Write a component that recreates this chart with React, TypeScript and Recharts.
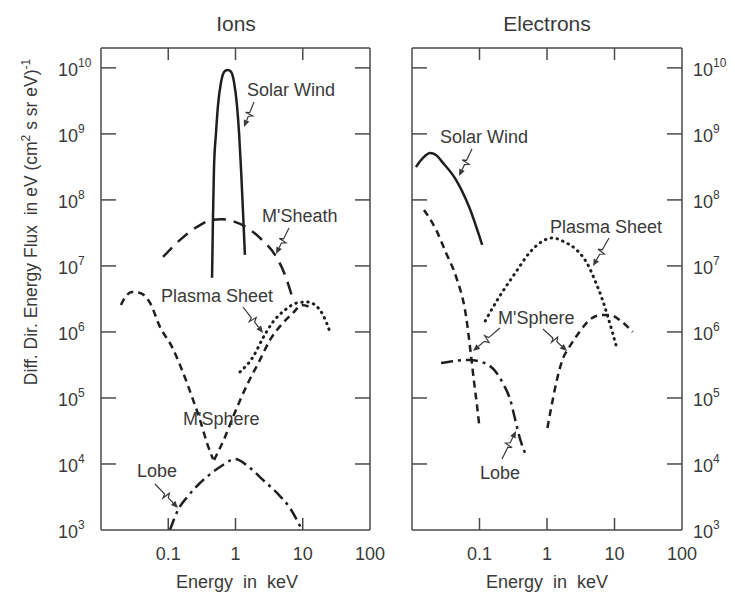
import { LineChart, Line, XAxis, YAxis } from 'recharts';

// [energy keV, diff. dir. energy flux]
const ionSolarWind = [[0.448, 6.6e6], [0.462, 5.0e7], [0.478, 2.85e8], [0.513, 1.03e9], [0.55, 2.75e9], [0.61, 6.1e9], [0.7, 9.0e9], [0.77, 9.3e9], [0.86, 8.7e9], [0.95, 6.1e9], [1.05, 2.75e9], [1.13, 1.03e9], [1.21, 2.85e8], [1.29, 7.0e7], [1.38, 1.47e7]];
const ionSheath = [[0.0836, 1.37e7], [0.15, 2.48e7], [0.268, 3.9e7], [0.46, 5.0e7], [0.62, 5.1e7], [0.83, 4.9e7], [1.48, 3.8e7], [2.48, 2.48e7], [3.87, 1.47e7], [5.45, 7.3e6], [6.9, 3.5e6]];
const ionSphereLow = [[0.0198, 2.56e6], [0.0236, 3.5e6], [0.0289, 4.04e6], [0.038, 3.9e6], [0.0536, 2.75e6], [0.0754, 1.19e6], [0.1137, 5.93e5], [0.16, 2.66e5], [0.2255, 1.04e5], [0.2965, 4.64e4], [0.377, 2.08e4], [0.462, 1.19e4]];
const ionSphereHigh = [[0.48, 1.15e4], [0.698, 2.56e4], [0.918, 5.15e4], [1.535, 1.69e5], [2.31, 3.77e5], [3.26, 7.57e5], [5.08, 1.37e6], [7.16, 1.94e6], [9.75, 2.56e6], [13.7, 2.31e6]];
const ionPlasmaSheet = [[1.167, 2.48e5], [1.82, 4.18e5], [2.56, 8.1e5], [3.61, 1.42e6], [5.45, 2.15e6], [8.2, 2.75e6], [11.6, 2.85e6], [15.2, 2.56e6], [20.0, 1.81e6], [25.4, 1.0e6]];
const ionLobe = [[0.106, 1e3], [0.1397, 2.01e3], [0.197, 3.27e3], [0.2965, 5.15e3], [0.462, 7.57e3], [0.652, 9.66e3], [0.984, 1.19e4], [1.644, 8.7e3], [2.56, 5.73e3], [4.14, 3.64e3], [6.46, 2.15e3], [9.75, 1e3]];

const eSolarWind = [[0.01145, 3.16e8], [0.01456, 4.33e8], [0.0185, 5.15e8], [0.0227, 4.8e8], [0.0279, 3.77e8], [0.0451, 2.0e8], [0.0703, 7.8e7], [0.1096, 2.08e7]];
const eSphereLow = [[0.01507, 7.05e7], [0.0228, 3.51e7], [0.032, 1.57e7], [0.0451, 6.8e6], [0.0634, 1.69e6], [0.0753, 4.18e5], [0.0834, 1.69e5], [0.0924, 7.3e4], [0.099, 3.9e4]];
const eSphereHigh = [[1.014, 3.51e4], [1.16, 7.3e4], [1.38, 1.75e5], [1.69, 3.77e5], [2.15, 5.93e5], [3.03, 1.0e6], [4.26, 1.52e6], [6.43, 1.81e6], [8.45, 1.81e6], [11.9, 1.52e6], [18.6, 1.0e6]];
const ePlasmaSheet = [[0.1216, 1.47e6], [0.196, 3.39e6], [0.339, 7.83e6], [0.547, 1.57e7], [0.826, 2.31e7], [1.2, 2.66e7], [1.81, 2.31e7], [2.74, 1.75e7], [3.98, 1.07e7], [5.24, 5.73e6], [6.65, 3.05e6], [7.89, 1.75e6], [9.37, 9.66e5], [10.7, 5.93e5]];
const eLobe = [[0.027, 3.39e5], [0.0435, 3.64e5], [0.0703, 3.77e5], [0.1175, 3.39e5], [0.165, 2.66e5], [0.225, 1.63e5], [0.286, 9.33e4], [0.339, 4.64e4], [0.403, 2.31e4], [0.494, 1.32e4]];

const energyTicks = [0.1, 1, 10, 100];
const fluxTicks = [1e3, 1e4, 1e5, 1e6, 1e7, 1e8, 1e9, 1e10];

const FONT = '"Liberation Sans", Arial, sans-serif';
const INK = '#1f1f1f';
const FRAME = '#4a4a4a';
const TEXT = '#3a3a3a';

// dash pattern per population
const dashes: Record<string, string | undefined> = {
  solar: undefined,
  sheath: '13 8',
  sphere: '7 5',
  plasma: '0.5 5.5',
  lobe: '12 5 3 5',
};

const pts = (arr: number[][]) => arr.map(([e, f]) => ({ e, f }));

const Pow = ({ x, y, v }: { x: number; y: number; v: number }) => (
  <text x={x} y={y} fontSize={18} fill={TEXT} fontFamily={FONT}>
    10<tspan dy={-9} fontSize={12}>{Math.round(Math.log10(v))}</tspan>
  </text>
);

const yTick = (side: 'left' | 'right', labelled: boolean) => (props: any) => {
  const { x, y, payload } = props;
  const v = payload.value;
  const dir = side === 'left' ? 1 : -1;
  return (
    <g>
      {v > 1e3 && <line x1={x} x2={x + dir * 15} y1={y} y2={y} stroke={FRAME} strokeWidth={1.5} />}
      {labelled && <Pow x={side === 'left' ? x - 43 : x + 11} y={y + 8} v={v} />}
    </g>
  );
};

const xTick = (side: 'top' | 'bottom') => (props: any) => {
  const { x, y, payload } = props;
  const v = payload.value;
  const dir = side === 'bottom' ? -1 : 1;
  return (
    <g>
      {v < 100 && <line x1={x} x2={x} y1={y} y2={y + dir * 12} stroke={FRAME} strokeWidth={1.5} />}
      {side === 'bottom' && (
        <text x={x} y={y + 30} textAnchor="middle" fontSize={18} fill={TEXT} fontFamily={FONT}>
          {v}
        </text>
      )}
    </g>
  );
};

type Series = { key: string; kind: string; data: number[][] };

const ionSeries: Series[] = [
  { key: 'sheath', kind: 'sheath', data: ionSheath },
  { key: 'sphereLow', kind: 'sphere', data: ionSphereLow },
  { key: 'sphereHigh', kind: 'sphere', data: ionSphereHigh },
  { key: 'plasma', kind: 'plasma', data: ionPlasmaSheet },
  { key: 'lobe', kind: 'lobe', data: ionLobe },
  { key: 'solar', kind: 'solar', data: ionSolarWind },
];

const electronSeries: Series[] = [
  { key: 'solar', kind: 'solar', data: eSolarWind },
  { key: 'sphereLow', kind: 'sphere', data: eSphereLow },
  { key: 'sphereHigh', kind: 'sphere', data: eSphereHigh },
  { key: 'plasma', kind: 'plasma', data: ePlasmaSheet },
  { key: 'lobe', kind: 'lobe', data: eLobe },
];

const axisLine = { stroke: FRAME, strokeWidth: 1.5 };

const Panel = ({ width, margin, series, labelSide }: { width: number; margin: any; series: Series[]; labelSide: 'left' | 'right' }) => (
  <LineChart width={width} height={594} margin={margin}>
    <XAxis xAxisId="b" type="number" dataKey="e" scale="log" domain={[0.01, 100]} allowDataOverflow ticks={energyTicks} interval={0}
      tick={xTick('bottom')} tickLine={false} tickSize={0} tickMargin={0} height={1} axisLine={axisLine} />
    <XAxis xAxisId="t" orientation="top" type="number" dataKey="e" scale="log" domain={[0.01, 100]} allowDataOverflow ticks={energyTicks} interval={0}
      tick={xTick('top')} tickLine={false} tickSize={0} tickMargin={0} height={1} axisLine={axisLine} />
    <YAxis yAxisId="l" type="number" scale="log" domain={[1e3, 2e10]} allowDataOverflow ticks={fluxTicks} interval={0}
      tick={yTick('left', labelSide === 'left')} tickLine={false} tickSize={0} tickMargin={0} width={1} axisLine={axisLine} />
    <YAxis yAxisId="r" orientation="right" type="number" scale="log" domain={[1e3, 2e10]} allowDataOverflow ticks={fluxTicks} interval={0}
      tick={yTick('right', labelSide === 'right')} tickLine={false} tickSize={0} tickMargin={0} width={1} axisLine={axisLine} />
    {series.map((s) => (
      <Line
        key={s.key}
        xAxisId="b"
        yAxisId="l"
        data={pts(s.data)}
        dataKey="f"
        type="monotone"
        stroke={INK}
        strokeWidth={s.kind === 'plasma' ? 3 : 2.5}
        strokeDasharray={dashes[s.kind]}
        strokeLinecap={s.kind === 'plasma' ? 'round' : 'butt'}
        dot={false}
        activeDot={false}
        isAnimationActive={false}
      />
    ))}
  </LineChart>
);

// leader line with a small zig-zag and an arrow head
const Leader = ({ from, to }: { from: [number, number]; to: [number, number] }) => {
  const [x1, y1] = from;
  const [x2, y2] = to;
  const dx = x2 - x1;
  const dy = y2 - y1;
  const len = Math.hypot(dx, dy);
  const ux = dx / len;
  const uy = dy / len;
  const nx = -uy;
  const ny = ux;
  const p = (t: number, o = 0) => `${x1 + dx * t + nx * o},${y1 + dy * t + ny * o}`;
  const bx = x2 - ux * 7;
  const by = y2 - uy * 7;
  return (
    <g>
      <path d={`M${p(0)} L${p(0.42)} L${p(0.47, 4)} L${p(0.5, -4)} L${p(0.58)} L${bx},${by}`} fill="none" stroke={TEXT} strokeWidth={1.2} />
      <path d={`M${x2},${y2} L${bx + nx * 3},${by + ny * 3} L${bx - nx * 3},${by - ny * 3} Z`} fill={TEXT} />
    </g>
  );
};

const labels: { t: string; x: number; y: number }[] = [
  { t: 'Solar Wind', x: 247, y: 96 },
  { t: "M'Sheath", x: 262, y: 222 },
  { t: 'Plasma Sheet', x: 161, y: 302 },
  { t: "M'Sphere", x: 183, y: 425 },
  { t: 'Lobe', x: 137, y: 477 },
  { t: 'Solar Wind', x: 440, y: 143 },
  { t: 'Plasma Sheet', x: 550, y: 233 },
  { t: "M'Sphere", x: 498, y: 324 },
  { t: 'Lobe', x: 480, y: 479 },
];

const leaders: [number, number, number, number][] = [
  [254, 102, 244, 127],
  [289, 228, 276, 254],
  [243, 307, 263, 333],
  [155, 484, 178, 508],
  [472, 149, 459, 176],
  [609, 238, 593, 266],
  [500, 328, 473, 351],
  [543, 329, 567, 351],
  [502, 459, 516, 431],
];

export default function App() {
  return (
    <div style={{ position: 'absolute', left: 0, top: 0, width: 735, height: 594, background: '#fff', fontFamily: FONT }}>
      <div style={{ position: 'absolute', left: 0, top: 0 }}>
        <Panel width={400} margin={{ top: 47, right: 29, bottom: 63, left: 100 }} series={ionSeries} labelSide="left" />
      </div>
      <div style={{ position: 'absolute', left: 370, top: 0 }}>
        <Panel width={365} margin={{ top: 47, right: 52, bottom: 63, left: 41 }} series={electronSeries} labelSide="right" />
      </div>
      <svg width={735} height={594} style={{ position: 'absolute', left: 0, top: 0, pointerEvents: 'none' }}>
        <g fontFamily={FONT} fill={TEXT}>
          <text x={236} y={31} textAnchor="middle" fontSize={21}>Ions</text>
          <text x={547} y={31} textAnchor="middle" fontSize={21}>Electrons</text>
          <text x={237} y={588} textAnchor="middle" fontSize={18} style={{ whiteSpace: 'pre' }}>Energy  in  keV</text>
          <text x={547} y={588} textAnchor="middle" fontSize={18} style={{ whiteSpace: 'pre' }}>Energy  in  keV</text>
          <text transform="translate(37,222) rotate(-90)" textAnchor="middle" fontSize={17.5} style={{ whiteSpace: 'pre' }}>
            Diff. Dir. Energy Flux  in eV (cm<tspan dy={-7} fontSize={12}>2</tspan>
            <tspan dy={7}> s sr eV)</tspan>
            <tspan dy={-7} fontSize={12}>-1</tspan>
          </text>
          {labels.map((l, i) => (
            <text key={i} x={l.x} y={l.y} fontSize={18}>{l.t}</text>
          ))}
        </g>
        {leaders.map(([a, b, c, d], i) => (
          <Leader key={i} from={[a, b]} to={[c, d]} />
        ))}
      </svg>
    </div>
  );
}
